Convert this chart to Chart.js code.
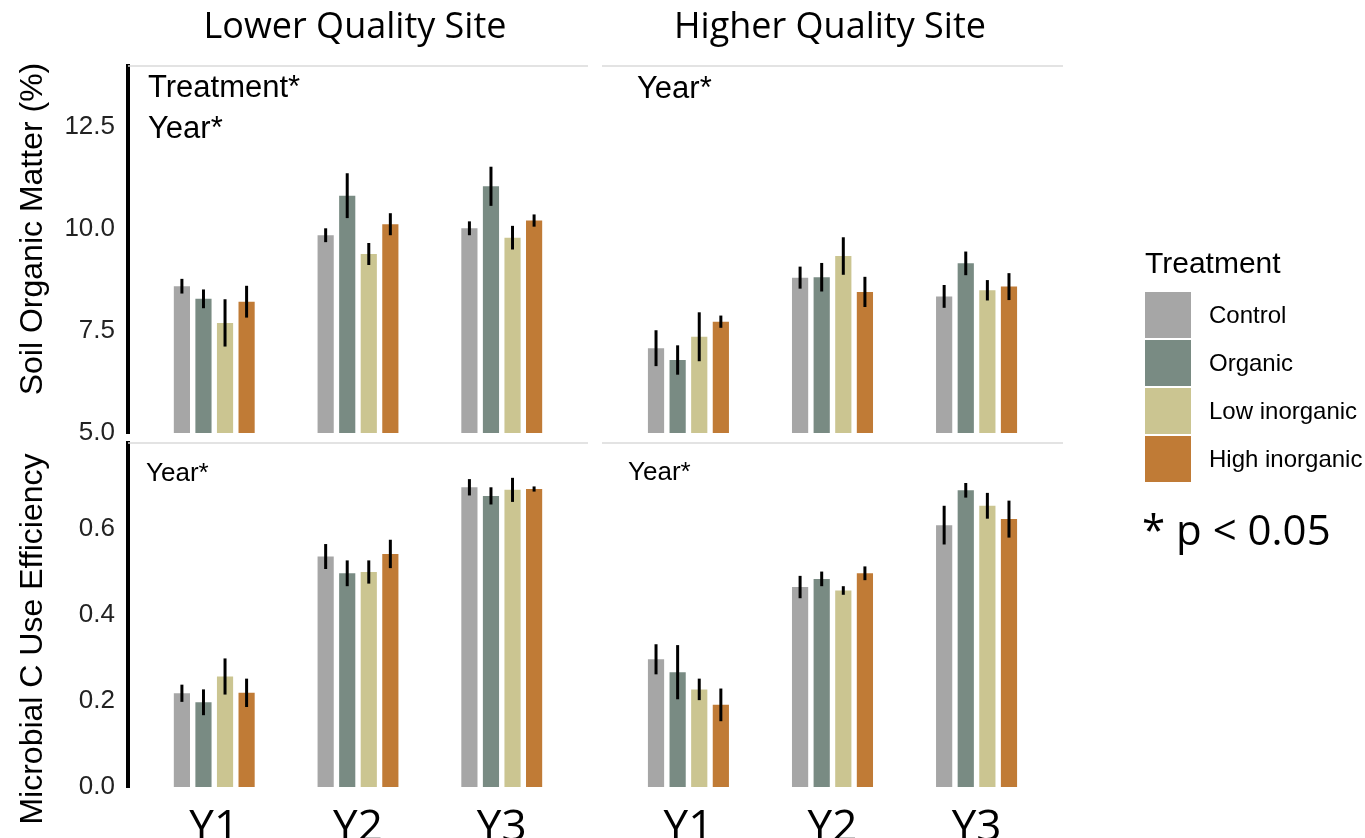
<!DOCTYPE html>
<html>
<head>
<meta charset="utf-8">
<script src="https://cdn.jsdelivr.net/npm/chart.js@4.4.1/dist/chart.umd.min.js"></script>
<style>
  body { margin: 0; background: #fff; width: 1365px; height: 838px; overflow: hidden; position: relative; }
  canvas { position: absolute; left: 0; top: 0; }
  .t { position: absolute; white-space: nowrap; color: #000; }
</style>
</head>
<body>
<canvas id="c0" width="1365" height="838"></canvas>
<canvas id="c1" width="1365" height="838"></canvas>
<canvas id="c2" width="1365" height="838"></canvas>
<canvas id="c3" width="1365" height="838"></canvas>
<script>
'use strict'

const years = ['Y1', 'Y2', 'Y3'];
const treatments = ['Control', 'Organic', 'Low inorganic', 'High inorganic'];
const colors = ['#a6a6a6', '#798b83', '#cbc591', '#c07b36'];

// one row per treatment, values for Y1, Y2, Y3
const somLower = [[8.60, 9.85, 10.02], [8.29, 10.82, 11.05], [7.70, 9.39, 9.79], [8.22, 10.12, 10.21]];
const somLowerErr = [[0.18, 0.17, 0.17], [0.23, 0.55, 0.48], [0.58, 0.27, 0.29], [0.39, 0.27, 0.15]];
const somHigher = [[7.08, 8.81, 8.35], [6.79, 8.82, 9.16], [7.36, 9.34, 8.50], [7.73, 8.46, 8.59]];
const somHigherErr = [[0.44, 0.27, 0.28], [0.36, 0.35, 0.29], [0.60, 0.46, 0.25], [0.15, 0.37, 0.33]];
const cueLower = [[0.218, 0.536, 0.697], [0.197, 0.497, 0.677], [0.257, 0.500, 0.691], [0.219, 0.542, 0.693]];
const cueLowerErr = [[0.020, 0.029, 0.019], [0.030, 0.030, 0.020], [0.042, 0.027, 0.028], [0.033, 0.033, 0.006]];
const cueHigher = [[0.297, 0.465, 0.609], [0.267, 0.484, 0.690], [0.227, 0.457, 0.654], [0.191, 0.497, 0.623]];
const cueHigherErr = [[0.035, 0.026, 0.045], [0.063, 0.017, 0.017], [0.025, 0.010, 0.030], [0.038, 0.016, 0.043]];

const somTicks = [5, 7.5, 10, 12.5];
const cueTicks = [0, 0.2, 0.4, 0.6];

const W = 1365, H = 838;
const SANS = '"Liberation Sans", Arial, sans-serif';
const TITLE = '"Open Sans", sans-serif';

// error bars, drawn through the y scale
const errorBars = {
  id: 'errorBars',
  afterDatasetsDraw(chart) {
    const ctx = chart.ctx;
    const yScale = chart.scales.y;
    ctx.save();
    ctx.strokeStyle = '#000';
    ctx.lineWidth = 3;
    chart.data.datasets.forEach((ds, i) => {
      chart.getDatasetMeta(i).data.forEach((bar, j) => {
        const v = ds.data[j].y, e = ds.err[j];
        ctx.beginPath();
        ctx.moveTo(bar.x, yScale.getPixelForValue(v + e));
        ctx.lineTo(bar.x, yScale.getPixelForValue(v - e));
        ctx.stroke();
      });
    });
    ctx.restore();
  }
};

// thin grey line on top of each panel
const panelLine = {
  id: 'panelLine',
  beforeDatasetsDraw(chart) {
    const a = chart.chartArea, ctx = chart.ctx;
    ctx.save();
    ctx.strokeStyle = '#dadada';
    ctx.lineWidth = 1.5;
    ctx.beginPath();
    ctx.moveTo(a.left, a.top);
    ctx.lineTo(a.right, a.top);
    ctx.stroke();
    ctx.restore();
  }
};

const panels = [
  {id: 'c0', vals: somLower, errs: somLowerErr, min: 5, max: 14, ticks: somTicks, dec: 1,
   left: 128, right: 588, top: 66, bottom: 433, yAxis: true, xLabels: false},
  {id: 'c1', vals: somHigher, errs: somHigherErr, min: 5, max: 14, ticks: somTicks, dec: 1,
   left: 602, right: 1063, top: 66, bottom: 433, yAxis: false, xLabels: false},
  {id: 'c2', vals: cueLower, errs: cueLowerErr, min: 0, max: 0.8, ticks: cueTicks, dec: 1,
   left: 128, right: 588, top: 443, bottom: 787, yAxis: true, xLabels: true},
  {id: 'c3', vals: cueHigher, errs: cueHigherErr, min: 0, max: 0.8, ticks: cueTicks, dec: 1,
   left: 602, right: 1063, top: 443, bottom: 787, yAxis: false, xLabels: true}
];

const makePanel = (p) => {
  const yW = 100;
  const xH = p.xLabels ? H - p.bottom : 0;
  new Chart(document.getElementById(p.id), {
    type: 'bar',
    data: {
      datasets: treatments.map((name, i) => ({
        label: name,
        data: years.map((y, j) => ({x: j + 1, y: p.vals[i][j]})),
        err: p.errs[i],
        backgroundColor: colors[i],
        borderWidth: 0,
        categoryPercentage: 0.6,
        barPercentage: 0.75
      }))
    },
    options: {
      responsive: false,
      animation: false,
      events: [],
      layout: {padding: {left: p.left - yW, right: W - p.right, top: p.top, bottom: p.xLabels ? 0 : H - p.bottom}},
      plugins: {legend: {display: false}, tooltip: {enabled: false}},
      scales: {
        x: {
          type: 'linear', min: 0.4, max: 3.6, offset: false,
          display: p.xLabels,
          grid: {display: false, drawTicks: false},
          border: {display: false},
          afterBuildTicks: s => { s.ticks = years.map((y, j) => ({value: j + 1})); },
          afterFit: s => { s.height = xH; },
          ticks: {
            callback: v => years[Math.round(v) - 1],
            font: {family: TITLE, size: 44},
            color: '#000', padding: 15, maxRotation: 0, autoSkip: false
          }
        },
        y: {
          min: p.min, max: p.max,
          grid: {display: false, drawTicks: false},
          border: {display: p.yAxis, color: '#000', width: 4},
          afterBuildTicks: s => { s.ticks = p.ticks.map(v => ({value: v})); },
          afterFit: s => { s.width = yW; },
          ticks: {
            display: p.yAxis,
            callback: v => v.toFixed(p.dec),
            font: {family: SANS, size: 26},
            color: '#222', padding: 13
          }
        }
      }
    },
    plugins: [errorBars, panelLine]
  });
};

panels.forEach(makePanel);

// ---- text outside the plots ----
const addText = (str, x, base, size, family, align) => {
  const d = document.createElement('div');
  d.className = 't';
  d.textContent = str;
  d.style.fontFamily = family;
  d.style.fontSize = size + 'px';
  d.style.lineHeight = '1';
  const k = family === TITLE ? 0.888 : 0.846;
  d.style.top = (base - k * size) + 'px';
  if (align === 'center') {
    d.style.left = (x - 400) + 'px';
    d.style.width = '800px';
    d.style.textAlign = 'center';
  } else {
    d.style.left = x + 'px';
  }
  document.body.appendChild(d);
  return d;
};

const addVText = (str, cx, cy, size) => {
  const d = document.createElement('div');
  d.className = 't';
  d.textContent = str;
  d.style.fontFamily = SANS;
  d.style.fontSize = size + 'px';
  d.style.lineHeight = size + 'px';
  d.style.width = '600px';
  d.style.height = size + 'px';
  d.style.textAlign = 'center';
  d.style.left = (cx - 300) + 'px';
  d.style.top = (cy - size / 2) + 'px';
  d.style.transform = 'rotate(-90deg)';
  document.body.appendChild(d);
};

addText('Lower Quality Site', 355, 39, 36, TITLE, 'center');
addText('Higher Quality Site', 830, 39, 36, TITLE, 'center');

addVText('Soil Organic Matter (%)', 31, 229, 32);
addVText('Microbial C Use Efficiency', 31, 639, 32);

addText('Treatment*', 148, 97, 31, SANS);
addText('Year*', 148, 138, 31, SANS);
addText('Year*', 637, 98, 31, SANS);
addText('Year*', 146, 481, 26, SANS);
addText('Year*', 628, 480, 26, SANS);

// legend
addText('Treatment', 1145, 273, 30, SANS);
treatments.forEach((name, i) => {
  const sw = document.createElement('div');
  sw.style.position = 'absolute';
  sw.style.left = '1145px';
  sw.style.top = (292 + i * 48) + 'px';
  sw.style.width = '46px';
  sw.style.height = '46px';
  sw.style.background = colors[i];
  document.body.appendChild(sw);
  addText(name, 1209, 292 + i * 48 + 23 + 8, 24, SANS);
});

addText('* p < 0.05', 1142, 545, 42, TITLE);
</script>
</body>
</html>
